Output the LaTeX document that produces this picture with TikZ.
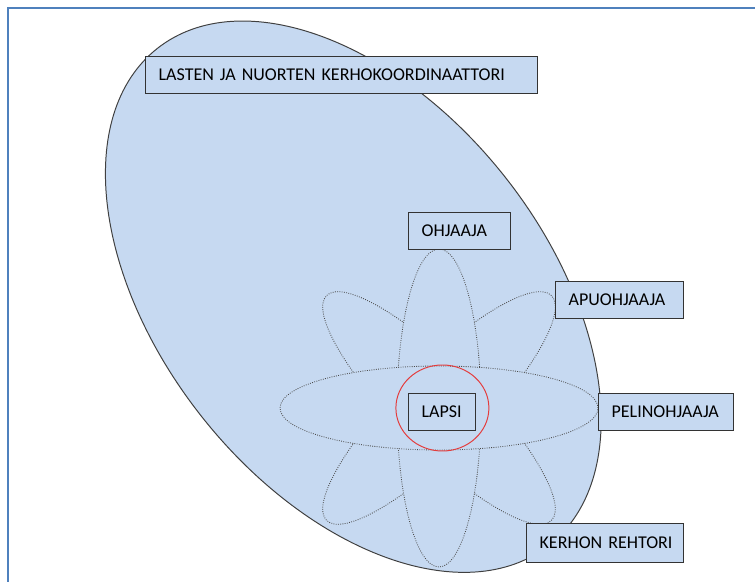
\documentclass[tikz,border=0pt]{standalone}
\usepackage{fontspec}
\setmainfont{Carlito}
\usetikzlibrary{shapes.geometric}
\definecolor{petalblue}{RGB}{198,217,241}
\definecolor{frameblue}{RGB}{79,129,189}
\definecolor{ringred}{RGB}{228,60,60}
\tikzset{
  petal/.style={ellipse,draw=black!70,densely dotted,line width=0.6pt,fill=petalblue,minimum width=7.95cm,minimum height=2.1cm,inner sep=0pt},
  rolebox/.style={rectangle,draw=black!80,line width=0.9pt,fill=petalblue,anchor=north west,inner xsep=0.325cm,inner ysep=0pt,minimum height=0.925cm,align=left,font=\fontsize{12.8}{15}\selectfont}
}

\begin{document}
\begin{tikzpicture}
\useasboundingbox (0,0) rectangle (18.875,14.55);
\draw[frameblue,line width=1.1pt] (0.2,0) -- (0.2,14.35) -- (18.875,14.35);
\node[ellipse,draw=black!75,line width=0.7pt,fill=petalblue,minimum width=15.815cm,minimum height=9.665cm,inner sep=0pt,rotate=-51.7] (club) at (8.8325,7.1325) {};

\coordinate (hub) at (10.975,4.35);
\node[petal,rotate=45] (petalNE) at (hub) {};
\node[petal,rotate=-45] (petalNW) at (hub) {};
\node[petal,rotate=90] (petalV) at (hub) {};
\node[petal] (petalH) at (hub) {};
\node[ellipse,draw=ringred,line width=0.7pt,minimum width=2.325cm,minimum height=2.15cm,inner sep=0pt] (ring) at (11.06,4.35) {};

\node[rolebox,text width=9.15cm] (koord) at (3.625,13.15) {\mbox{LASTEN JA NUORTEN KERHOKOORDINAATTORI}};
\node[rolebox,text width=1.9cm] (ohjaaja) at (10.2,9.25) {OHJAAJA};
\node[rolebox,text width=2.55cm] (apuohjaaja) at (13.875,7.525) {APUOHJAAJA};
\node[rolebox,text width=1.025cm] (lapsi) at (10.2,4.725) {LAPSI};
\node[rolebox,text width=2.725cm] (pelinohjaaja) at (14.95,4.725) {PELINOHJAAJA};
\node[rolebox,text width=3.275cm,minimum height=0.975cm] (rehtori) at (13.15,1.475) {\mbox{KERHON REHTORI}};
\end{tikzpicture}
\end{document}
